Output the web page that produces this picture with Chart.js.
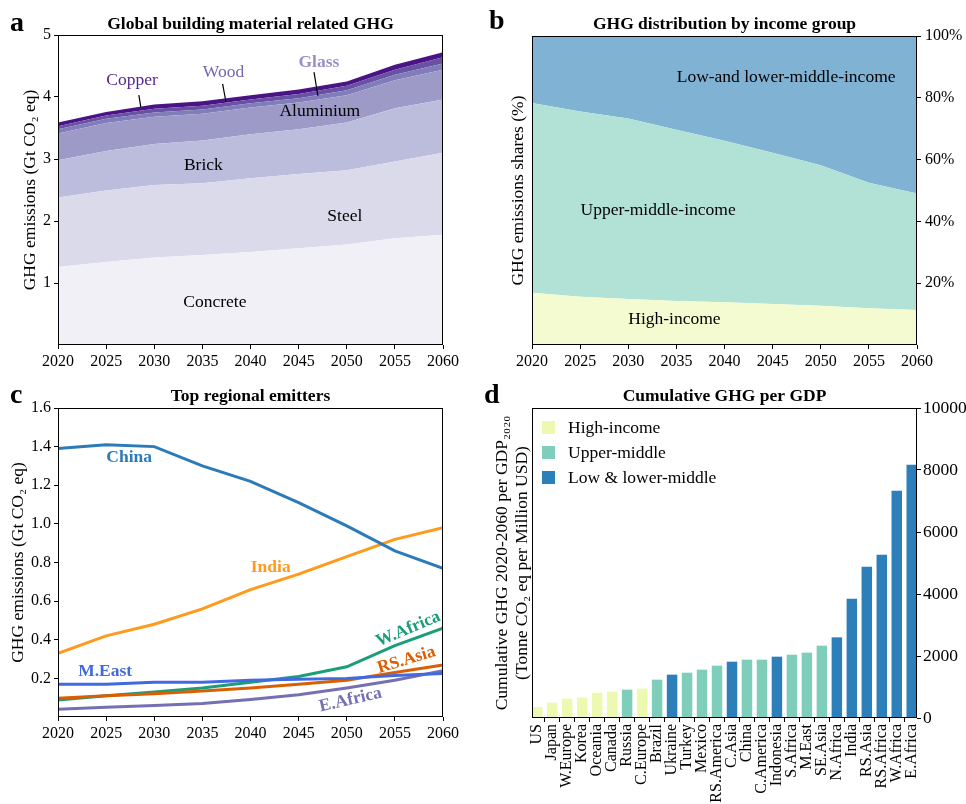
<!DOCTYPE html>
<html>
<head>
<meta charset="utf-8">
<script src="https://cdn.jsdelivr.net/npm/chart.js@4.4.0/dist/chart.umd.min.js"></script>
<style>
  body { margin: 0; background: #fff; font-family: "Liberation Serif", "Times New Roman", serif; }
  #page { position: relative; width: 966px; height: 804px; overflow: hidden; }
  .panel { position: absolute; }
  .letter { position: absolute; font-weight: bold; font-size: 28px; line-height: 1; }
</style>
</head>
<body>
<div id="page">
  <div class="panel" style="left:0;top:0;width:483px;height:380px"><canvas id="chartA"></canvas></div>
  <div class="panel" style="left:483px;top:0;width:483px;height:380px"><canvas id="chartB"></canvas></div>
  <div class="panel" style="left:0;top:380px;width:483px;height:424px"><canvas id="chartC"></canvas></div>
  <div class="panel" style="left:483px;top:380px;width:483px;height:424px"><canvas id="chartD"></canvas></div>
  <div class="letter" style="left:10px;top:8px">a</div>
  <div class="letter" style="left:489px;top:6px">b</div>
  <div class="letter" style="left:10px;top:380px">c</div>
  <div class="letter" style="left:484px;top:380px">d</div>
</div>
<script>
// ---- data ----
const years = [2020, 2025, 2030, 2035, 2040, 2045, 2050, 2055, 2060];

// panel a, Gt CO2 eq per material (stacked)
const concrete = [1.26, 1.34, 1.41, 1.45, 1.50, 1.56, 1.62, 1.72, 1.78];
const steel = [1.12, 1.15, 1.17, 1.16, 1.19, 1.20, 1.20, 1.24, 1.32];
const brick = [0.60, 0.64, 0.66, 0.69, 0.71, 0.72, 0.77, 0.86, 0.86];
const aluminium = [0.43, 0.45, 0.44, 0.43, 0.43, 0.43, 0.44, 0.45, 0.48];
const glass = [0.07, 0.07, 0.07, 0.07, 0.07, 0.07, 0.08, 0.09, 0.10];
const wood = [0.05, 0.05, 0.06, 0.06, 0.06, 0.07, 0.07, 0.08, 0.10];
const copper = [0.06, 0.06, 0.07, 0.07, 0.07, 0.07, 0.07, 0.08, 0.08];

// panel b, shares in %
const highShare = [16.9, 15.6, 14.9, 14.2, 13.8, 13.3, 12.7, 11.9, 11.3];
const upperShare = [61.4, 60.0, 58.4, 55.5, 52.3, 48.9, 45.5, 40.6, 37.7];
const lowShare = [21.7, 24.4, 26.7, 30.3, 33.9, 37.8, 41.8, 47.5, 51.0];

// panel c, Gt CO2 eq
const china = [1.39, 1.41, 1.40, 1.30, 1.22, 1.11, 0.99, 0.86, 0.77];
const india = [0.33, 0.42, 0.48, 0.56, 0.66, 0.74, 0.83, 0.92, 0.98];
const mEast = [0.17, 0.17, 0.18, 0.18, 0.19, 0.195, 0.20, 0.215, 0.225];
const wAfrica = [0.088, 0.11, 0.13, 0.15, 0.18, 0.21, 0.26, 0.37, 0.46];
const rsAsia = [0.097, 0.11, 0.12, 0.135, 0.15, 0.17, 0.19, 0.23, 0.27];
const eAfrica = [0.04, 0.05, 0.06, 0.07, 0.09, 0.115, 0.15, 0.19, 0.24];

// panel d, tonne CO2 eq per million USD
const regions = ["US", "Japan", "W.Europe", "Korea", "Oceania", "Canada", "Russia", "C.Europe", "Brazil",
  "Ukraine", "Turkey", "Mexico", "RS.America", "C.Asia", "China", "C.America", "Indonesia", "S.Africa",
  "M.East", "SE.Asia", "N.Africa", "India", "RS.Asia", "RS.Africa", "W.Africa", "E.Africa"];
const ghgPerGdp = [355, 495, 624, 656, 817, 849, 914, 946, 1237, 1398, 1462, 1559, 1688, 1817, 1882, 1882,
  1978, 2043, 2108, 2333, 2602, 3849, 4882, 5269, 7333, 8172];
const incomeGroup = ["H", "H", "H", "H", "H", "H", "U", "H", "U", "L", "U", "U", "U", "L", "U", "U",
  "L", "U", "U", "U", "L", "L", "L", "L", "L", "L"];

// ---- helpers ----
Chart.defaults.font.family = "'Liberation Serif', 'Times New Roman', serif";
Chart.defaults.font.size = 16;
Chart.defaults.color = "#000";
Chart.defaults.animation = false;

const SERIF = "'Liberation Serif', 'Times New Roman', serif";

function pts(arr) {
  return years.map((yr, i) => ({ x: yr, y: arr[i] }));
}

function fixSize(w, h) {
  return (scale) => {
    if (w !== undefined) scale.width = w;
    if (h !== undefined) scale.height = h;
  };
}

const tickGrid = { display: true, drawOnChartArea: false, drawTicks: true, tickLength: 4, tickColor: "#000", tickWidth: 1 };

const framePlugin = {
  id: "frame",
  afterDatasetsDraw(chart) {
    const { ctx, chartArea: a } = chart;
    ctx.save();
    ctx.strokeStyle = "#000";
    ctx.lineWidth = 1;
    ctx.strokeRect(Math.round(a.left) + 0.5, Math.round(a.top) + 0.5, Math.round(a.width) - 1, Math.round(a.height) - 1);
    ctx.restore();
  }
};

// text labels placed in data coordinates
function notes(items, yId) {
  return {
    id: "notes",
    afterDatasetsDraw(chart) {
      const ctx = chart.ctx;
      const xs = chart.scales.x, ys = chart.scales[yId || "y"];
      ctx.save();
      items.forEach((n) => {
        if (n.line) {
          ctx.beginPath();
          ctx.strokeStyle = "#000";
          ctx.lineWidth = 1.2;
          ctx.moveTo(xs.getPixelForValue(n.line[0]), ys.getPixelForValue(n.line[1]));
          ctx.lineTo(xs.getPixelForValue(n.line[2]), ys.getPixelForValue(n.line[3]));
          ctx.stroke();
          return;
        }
        const px = xs.getPixelForValue(n.x), py = ys.getPixelForValue(n.y);
        ctx.save();
        ctx.translate(px, py);
        if (n.rot) ctx.rotate(n.rot * Math.PI / 180);
        ctx.font = (n.bold ? "bold " : "") + (n.size || 17.5) + "px " + SERIF;
        ctx.fillStyle = n.color || "#000";
        ctx.textAlign = "center";
        ctx.textBaseline = "middle";
        ctx.fillText(n.text, 0, 0);
        ctx.restore();
      });
      ctx.restore();
    }
  };
}

function titleOpts(text, padTop, padBottom) {
  return {
    display: true, text: text, fullSize: false,
    font: { size: 17.5, weight: "bold", lineHeight: 1.2 },
    padding: { top: padTop, bottom: padBottom }
  };
}

const yearAxis = (h) => ({
  type: "linear", min: 2020, max: 2060,
  ticks: { stepSize: 5, font: { size: 16 }, padding: 3, callback: (v) => String(v), maxRotation: 0 },
  grid: tickGrid, border: { display: false },
  afterFit: fixSize(undefined, h)
});

// ---- panel a ----
const purples = ["#f2f0f7", "#dadaeb", "#bcbddc", "#9e9ac8", "#807dba", "#6a51a3", "#4a1486"];
const materials = [
  ["Concrete", concrete], ["Steel", steel], ["Brick", brick], ["Aluminium", aluminium],
  ["Glass", glass], ["Wood", wood], ["Copper", copper]
];

new Chart(document.getElementById("chartA"), {
  type: "line",
  data: {
    datasets: materials.map(([name, arr], i) => ({
      label: name, data: pts(arr), backgroundColor: purples[i], borderWidth: 0,
      pointRadius: 0, fill: i === 0 ? "origin" : "-1", tension: 0
    }))
  },
  options: {
    responsive: true, maintainAspectRatio: false,
    layout: { padding: { left: 0, right: 40, top: 0, bottom: 0 } },
    plugins: { legend: { display: false }, tooltip: { enabled: false }, title: titleOpts("Global building material related GHG", 13.5, 0.5) },
    scales: {
      x: yearAxis(35),
      y: {
        stacked: true, min: 0, max: 5,
        afterBuildTicks: (s) => { s.ticks = [1, 2, 3, 4, 5].map((v) => ({ value: v })); },
        ticks: { font: { size: 16 }, padding: 3 },
        grid: tickGrid, border: { display: false },
        title: { display: true, text: "GHG emissions (Gt CO\u2082 eq)", font: { size: 17.5 }, padding: { top: 20, bottom: 0 } },
        afterFit: fixSize(58)
      }
    }
  },
  plugins: [framePlugin, notes([
    { text: "Copper", x: 2027.7, y: 4.27, color: "#54278f" },
    { line: [2028.4, 4.03, 2028.6, 3.84] },
    { text: "Wood", x: 2037.2, y: 4.39, color: "#7565b4" },
    { line: [2037.1, 4.21, 2037.45, 3.92] },
    { text: "Glass", x: 2047.1, y: 4.56, color: "#9590c8", bold: true },
    { line: [2046.6, 4.40, 2047.0, 4.02] },
    { text: "Aluminium", x: 2047.2, y: 3.77 },
    { text: "Brick", x: 2035.1, y: 2.89 },
    { text: "Steel", x: 2049.8, y: 2.08 },
    { text: "Concrete", x: 2036.3, y: 0.68 }
  ])]
});

// ---- panel b ----
const incomeColors = { H: "#edf8b1", U: "#7fcdbb", L: "#2c7fb8" };
const incomeFaded = { H: "#f4fbd0", U: "#b2e1d6", L: "#80b2d4" };

new Chart(document.getElementById("chartB"), {
  type: "line",
  data: {
    datasets: [
      { label: "High-income", data: pts(highShare), backgroundColor: incomeFaded.H, fill: "origin" },
      { label: "Upper-middle-income", data: pts(upperShare), backgroundColor: incomeFaded.U, fill: "-1" },
      { label: "Low-and lower-middle-income", data: pts(lowShare), backgroundColor: incomeFaded.L, fill: "-1" }
    ].map((d) => Object.assign(d, { borderWidth: 0, pointRadius: 0, tension: 0 }))
  },
  options: {
    responsive: true, maintainAspectRatio: false,
    layout: { padding: 0 },
    plugins: { legend: { display: false }, tooltip: { enabled: false }, title: titleOpts("GHG distribution by income group", 13.5, 1.5) },
    scales: {
      x: yearAxis(35),
      y: {
        position: "right", stacked: true, min: 0, max: 100,
        afterBuildTicks: (s) => { s.ticks = [20, 40, 60, 80, 100].map((v) => ({ value: v })); },
        ticks: { font: { size: 16 }, padding: 4, callback: (v) => v + "%" },
        grid: tickGrid, border: { display: false },
        afterFit: fixSize(49)
      },
      yl: {
        position: "left", ticks: { display: false }, grid: { display: false }, border: { display: false },
        title: { display: true, text: "GHG emissions shares (%)", font: { size: 17.5 }, padding: { top: 25, bottom: 0 } },
        afterFit: fixSize(49)
      }
    }
  },
  plugins: [framePlugin, notes([
    { text: "Low-and lower-middle-income", x: 2046.4, y: 86.7 },
    { text: "Upper-middle-income", x: 2033.1, y: 43.7 },
    { text: "High-income", x: 2034.8, y: 8.4 }
  ])]
});

// ---- panel c ----
const regionLines = [
  ["China", china, "#2b7bb9"],
  ["M.East", mEast, "#4169e1"],
  ["India", india, "#ff9a1c"],
  ["RS.Asia", rsAsia, "#d95f02"],
  ["W.Africa", wAfrica, "#1b9e77"],
  ["E.Africa", eAfrica, "#7570b3"]
];

new Chart(document.getElementById("chartC"), {
  type: "line",
  data: {
    datasets: regionLines.map(([name, arr, col]) => ({
      label: name, data: pts(arr), borderColor: col, borderWidth: 3, pointRadius: 0, fill: false, tension: 0
    }))
  },
  options: {
    responsive: true, maintainAspectRatio: false,
    layout: { padding: { left: 0, right: 40, top: 0, bottom: 0 } },
    plugins: { legend: { display: false }, tooltip: { enabled: false }, title: titleOpts("Top regional emitters", 5.5, 1.5) },
    scales: {
      x: yearAxis(87),
      y: {
        min: 0, max: 1.6,
        afterBuildTicks: (s) => { s.ticks = [0.2, 0.4, 0.6, 0.8, 1.0, 1.2, 1.4, 1.6].map((v) => ({ value: v })); },
        ticks: { font: { size: 16 }, padding: 3, callback: (v) => Number(v).toFixed(1) },
        grid: tickGrid, border: { display: false },
        title: { display: true, text: "GHG emissions (Gt CO\u2082 eq)", font: { size: 17.5 }, padding: { top: 7.5, bottom: 0 } },
        afterFit: fixSize(58)
      }
    }
  },
  plugins: [framePlugin, notes([
    { text: "China", x: 2027.4, y: 1.345, color: "#2b7bb9", bold: true },
    { text: "India", x: 2042.1, y: 0.776, color: "#ff9a1c", bold: true },
    { text: "M.East", x: 2024.9, y: 0.238, color: "#4169e1", bold: true },
    { text: "W.Africa", x: 2056.4, y: 0.455, color: "#1b9e77", bold: true, rot: -23 },
    { text: "RS.Asia", x: 2056.2, y: 0.295, color: "#d95f02", bold: true, rot: -17 },
    { text: "E.Africa", x: 2050.4, y: 0.088, color: "#7570b3", bold: true, rot: -13 }
  ])]
});

// ---- panel d ----
const groupNames = [["H", "High-income"], ["U", "Upper-middle"], ["L", "Low & lower-middle"]];

const legendBoxes = {
  id: "legendBoxes",
  afterDatasetsDraw(chart) {
    const { ctx, chartArea: a } = chart;
    ctx.save();
    chart.data.datasets.forEach((ds, i) => {
      const y = a.top + 13 + i * 25;
      ctx.fillStyle = ds.backgroundColor;
      ctx.fillRect(a.left + 10, y, 13, 13);
      ctx.fillStyle = "#000";
      ctx.font = "17.5px " + SERIF;
      ctx.textAlign = "left";
      ctx.textBaseline = "middle";
      ctx.fillText(ds.label, a.left + 36, y + 7);
    });
    ctx.restore();
  }
};

new Chart(document.getElementById("chartD"), {
  type: "bar",
  data: {
    datasets: groupNames.map(([g, name]) => ({
      label: name,
      backgroundColor: incomeColors[g],
      data: regions.map((r, i) => ({ x: i, y: ghgPerGdp[i] })).filter((p, i) => incomeGroup[i] === g),
      grouped: false, barPercentage: 0.7, categoryPercentage: 1, borderWidth: 0
    }))
  },
  options: {
    responsive: true, maintainAspectRatio: false,
    layout: { padding: 0 },
    plugins: { legend: { display: false }, tooltip: { enabled: false }, title: titleOpts("Cumulative GHG per GDP", 5.5, 1.5) },
    scales: {
      x: {
        type: "linear", min: -0.35, max: regions.length - 0.65, offset: false,
        afterBuildTicks: (s) => { s.ticks = regions.map((r, i) => ({ value: i })); },
        ticks: { autoSkip: false, minRotation: 90, maxRotation: 90, font: { size: 16 }, padding: 2, callback: (v) => regions[v] },
        grid: tickGrid, border: { display: false },
        afterFit: fixSize(undefined, 86)
      },
      y: {
        position: "right", min: 0, max: 10000,
        afterBuildTicks: (s) => { s.ticks = [0, 2000, 4000, 6000, 8000, 10000].map((v) => ({ value: v })); },
        ticks: { font: { size: 17.5 }, padding: 2, callback: (v) => String(v) },
        grid: tickGrid, border: { display: false },
        afterFit: fixSize(49)
      },
      yl: {
        position: "left", ticks: { display: false }, grid: { display: false }, border: { display: false },
        title: {
          display: true,
          text: ["Cumulative GHG 2020-2060 per GDP\u2082\u2080\u2082\u2080", "(Tonne CO\u2082 eq per Million USD)"],
          font: { size: 17.5, lineHeight: 1.15 }, padding: { top: 9, bottom: 0 }
        },
        afterFit: fixSize(49)
      }
    }
  },
  plugins: [framePlugin, legendBoxes]
});
</script>
</body>
</html>
